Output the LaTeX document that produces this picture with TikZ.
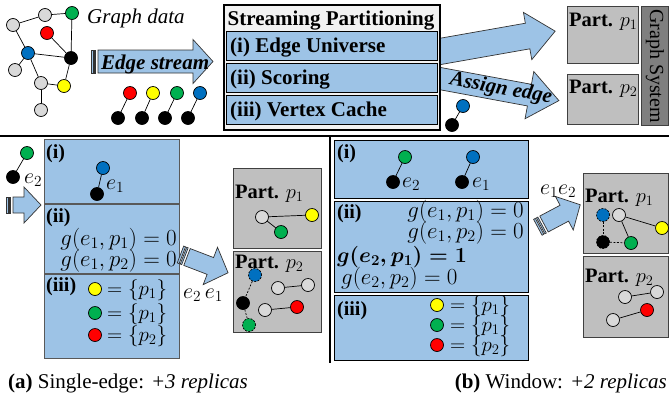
\RequirePackage{fix-cm}
\documentclass[tikz,border=0pt]{standalone}
\usepackage{amsmath}
\usepackage{fontspec}
\setmainfont{Liberation Serif}
\definecolor{lblue}{HTML}{9DC3E6}
\definecolor{pgray}{HTML}{BFBFBF}
\definecolor{sgray}{HTML}{7F7F7F}
\definecolor{vgray}{HTML}{D9D9D9}
\definecolor{vgreen}{HTML}{00B050}
\definecolor{vblue}{HTML}{0070C0}
\definecolor{vred}{HTML}{FF0000}
\definecolor{vyellow}{HTML}{FFFF00}
\definecolor{spfill}{HTML}{F2F2F2}
\newcommand{\fA}{\fontsize{21}{24}\selectfont}
\newcommand{\fB}{\fontsize{20}{22}\selectfont}
\newcommand{\fP}{\fontsize{20.5}{22}\selectfont}
\newcommand{\fM}{\fontsize{23}{24}\selectfont}
\newcommand{\fMb}{\fontsize{21.5}{24}\selectfont}
\newcommand{\fE}{\fontsize{22}{24}\selectfont}
\newcommand{\fS}{\fontsize{21}{24}\selectfont}
\tikzset{
 vtx/.style={circle, draw=black, line width=0.7pt, minimum size=13pt, inner sep=0pt},
 vg/.style={vtx, fill=vgray}, vr/.style={vtx, fill=vred}, vy/.style={vtx, fill=vyellow},
 vgn/.style={vtx, fill=vgreen}, vb/.style={vtx, fill=vblue}, vk/.style={vtx, fill=black},
 dashv/.style={dash pattern=on 2pt off 1.3pt},
 lnk/.style={line width=0.7pt},
 dlnk/.style={line width=0.7pt, dash pattern=on 2pt off 1.5pt},
 spbox/.style={draw=black, fill=spfill, line width=1.5pt},
 panelA/.style={draw=black!65, fill=lblue, line width=1pt},
 panelB/.style={draw=black, fill=lblue, line width=1.2pt},
 partbox/.style={draw=black!75, fill=pgray, line width=1pt},
 gsbox/.style={draw=black!75, fill=sgray, line width=1pt},
 arrsty/.style={draw=black!80, fill=lblue, line width=0.7pt, line join=miter},
 lbl/.style={inner sep=0pt, font=\fE},
 mth/.style={inner sep=0pt, font=\fM},
 mthb/.style={inner sep=0pt, font=\fMb},
 sett/.style={inner sep=0pt, font=\fS, anchor=base west},
 lblb/.style={inner sep=0pt, font=\fB\bfseries},
 ptxt/.style={inner sep=0pt, font=\fP, anchor=base west},
}
\newcommand{\boxnode}[6]{\node[#2, anchor=north west, minimum width={#5-#3}, minimum height={#6-#4}, inner sep=0pt] (#1) at (#3,#4) {};}
\newcommand{\fatarr}[7]{%
 \begin{scope}[shift={(#1,#2)},rotate=#3]
 \draw[arrsty] (0,-#5) -- ({#4-#7},-#5) -- ({#4-#7},-#6) -- (#4,0) -- ({#4-#7},#6) -- ({#4-#7},#5) -- (0,#5) -- cycle;
 \end{scope}}
\newcommand{\stripes}[4]{%
 \begin{scope}[shift={(#1,#2)},rotate=#3]
 \draw[arrsty] (-7,-#4) rectangle (-5,#4);
 \draw[arrsty] (-3.8,-#4) rectangle (-2.2,#4);
 \end{scope}}
\begin{document}
\begin{tikzpicture}[x=1pt,y=-1pt]
\useasboundingbox (0,0) rectangle (669,397);
% ---------- top: graph data ----------
\node[vg] (g1) at (13,25) {};
\node[vg] (g2) at (45,15) {};
\node[vgn] (g3) at (72,13) {};
\node[vr] (g4) at (47,33) {};
\node[vb] (g5) at (28,53) {};
\node[vk] (g6) at (71,58) {};
\node[vg] (g7) at (15,70) {};
\node[vg] (g8) at (41,83) {};
\node[vy] (g9) at (64,86) {};
\node[vg] (g10) at (41,110) {};
\foreach \a/\b in {g1/g2,g2/g3,g3/g6,g1/g5,g4/g6,g5/g6,g5/g7,g5/g8,g6/g9,g8/g9,g8/g10}
  \draw[lnk] (\a) -- (\b);
\node[anchor=base west, inner sep=0pt, font=\fA\itshape] (gdata) at (87,23) {Graph data};
% edge stream arrow
\stripes{98}{61.5}{0}{11.5}
\fatarr{98}{61.5}{0}{115}{11.5}{22}{20}
\node[anchor=base west, inner sep=0pt, font=\fA\bfseries\itshape] (estream) at (101,69) {Edge stream};
\node[vr] (s1) at (130,93) {}; \node[vk] (k1) at (118,118) {};
\node[vy] (s2) at (153,93) {}; \node[vk] (k2) at (142,118) {};
\node[vgn] (s3) at (177,93) {}; \node[vk] (k3) at (165,118) {};
\node[vb] (s4) at (200,93) {}; \node[vk] (k4) at (188,118) {};
\foreach \a/\b in {s1/k1,s2/k2,s3/k3,s4/k4} \draw[lnk] (\a) -- (\b);
% big arrows to partitions
\fatarr{437}{52}{10}{120}{13}{24}{28}
\fatarr{437}{78}{-10.5}{124}{11}{24}{30}
\node[rotate=-10.5, font=\fA\bfseries\itshape, inner sep=0pt] (assign) at (501,89) {Assign edge};
\node[vb] (ab) at (463,106) {}; \node[vk] (ak) at (452,125) {};
\draw[lnk] (ab) -- (ak);
% streaming partitioning box
\boxnode{sp}{spbox}{223}{4}{439}{129}
\node[anchor=base, inner sep=0pt, font=\fA\bfseries] (sptitle) at (331,25) {Streaming Partitioning};
\boxnode{spa}{panelB}{226}{31}{437}{60}
\boxnode{spb}{panelB}{226}{63}{437}{92}
\boxnode{spc}{panelB}{226}{95}{437}{124}
\node[anchor=base west, inner sep=0pt, font=\fA\bfseries] (spat) at (230,52) {(i) Edge Universe};
\node[anchor=base west, inner sep=0pt, font=\fA\bfseries] (spbt) at (230,84) {(ii) Scoring};
\node[anchor=base west, inner sep=0pt, font=\fA\bfseries] (spct) at (230,116) {(iii) Vertex Cache};
% partitions top
\boxnode{tp1}{partbox}{567}{6}{638}{63}
\boxnode{tp2}{partbox}{567}{74}{638}{124}
\node[ptxt] (tp1t) at (569,26) {\textbf{Part.} $p_1$};
\node[ptxt] (tp2t) at (569,93) {\textbf{Part.} $p_2$};
\boxnode{gs}{gsbox}{641}{6}{668}{125}
\node[rotate=-90, inner sep=0pt, font=\fB] (gst) at (gs.center) {Graph System};
% separators
\draw[line width=2.5pt] (0,136) -- (669,136);
\draw[line width=2.5pt] (330,136) -- (330,363);
% ---------- (a) ----------
\node[vgn] (ag) at (27,153) {}; \node[vk] (ak2) at (13,177) {};
\draw[lnk] (ag) -- (ak2);
\node[lbl, anchor=base west] (ae2) at (24,183) {$e_2$};
\stripes{13}{205}{0}{8}
\fatarr{13}{205}{0}{28}{8}{18}{17}
\boxnode{a1}{panelA}{44}{139}{179}{203}
\boxnode{a2}{panelA}{44}{204}{179}{273}
\boxnode{a3}{panelA}{44}{274}{179}{358}
\node[lblb, anchor=base west] (a1t) at (46,158) {(i)};
\node[lblb, anchor=base west] (a2t) at (46,222) {(ii)};
\node[lblb, anchor=base west] (a3t) at (46,291) {(iii)};
\node[vb] (ab1) at (103,168) {}; \node[vk] (ak1) at (97,194) {};
\draw[lnk] (ab1) -- (ak1);
\node[lbl, anchor=base west] (ae1) at (106,189) {$e_1$};
\node[mth, anchor=base east] (am1) at (177,245) {$g(e_1,p_1)=0$};
\node[mth, anchor=base east] (am2) at (177,266) {$g(e_1,p_2)=0$};
\node[vy] (ay) at (95,289) {}; \node[sett] (ayt) at (107,295) {$=\{p_1\}$};
\node[vgn] (agn) at (95,313) {}; \node[sett] (agt) at (107,319) {$=\{p_1\}$};
\node[vr] (ar) at (95,335) {}; \node[sett] (art) at (107,341) {$=\{p_2\}$};
% arrow (a)
\stripes{187}{257}{-21}{9}
\fatarr{187}{257}{-21}{44}{9}{20}{19}
\node[lbl, anchor=base] (ae21) at (203,298) {$e_2\,e_1$};
% partitions (a)
\boxnode{pa1}{partbox}{233}{168}{321}{248}
\boxnode{pa2}{partbox}{233}{251}{321}{332}
\node[ptxt] (pa1t) at (235,198) {\textbf{Part.} $p_1$};
\node[ptxt] (pa2t) at (235,268) {\textbf{Part.} $p_2$};
\node[vg] (w1) at (262,217) {}; \node[vy] (y1) at (312,215) {}; \node[vgn] (gr1) at (281,232) {};
\draw[lnk] (w1) -- (y1); \draw[lnk] (w1) -- (gr1);
\node[vb, dashv] (b2) at (255,275) {};
\node[vk] (kk2) at (243,303) {};
\node[vgn, dashv] (gr2) at (249,325) {};
\node[vg] (w2) at (278,288) {}; \node[vg] (w3) at (308,285) {};
\node[vg] (w4) at (265,310) {}; \node[vr] (r2) at (297,307) {};
\draw[dlnk] (b2) -- (kk2); \draw[dlnk] (kk2) -- (gr2);
\draw[lnk] (w2) -- (w3); \draw[lnk] (w4) -- (r2);
% ---------- (b) ----------
\boxnode{b1}{panelB}{334}{140}{528}{198}
\boxnode{bb2}{panelB}{334}{201}{528}{292}
\boxnode{b3}{panelB}{334}{295}{528}{360}
\node[lblb, anchor=base west] (b1t) at (337,158) {(i)};
\node[lblb, anchor=base west] (b2t) at (337,218) {(ii)};
\node[lblb, anchor=base west] (b3t) at (337,315) {(iii)};
\node[vgn] (bg) at (405,157) {}; \node[vk] (bk) at (393,182) {};
\draw[lnk] (bg) -- (bk);
\node[lbl, anchor=base west] (be2) at (402,187) {$e_2$};
\node[vb] (bb) at (473,157) {}; \node[vk] (bkk) at (462,182) {};
\draw[lnk] (bb) -- (bkk);
\node[lbl, anchor=base west] (be1) at (472,187) {$e_1$};
\node[mth, anchor=base east] (bm1) at (524,217) {$g(e_1,p_1)=0$};
\node[mth, anchor=base east] (bm2) at (524,238) {$g(e_1,p_2)=0$};
\node[mthb, anchor=base west] (bm3) at (337,262) {$\boldsymbol{g(e_2,p_1)=1}$};
\node[mth, anchor=base west] (bm4) at (341,284) {$g(e_2,p_2)=0$};
\node[vy] (by) at (437,305) {}; \node[sett] (byt) at (450,311) {$=\{p_1\}$};
\node[vgn] (bgn) at (437,325) {}; \node[sett] (bgt) at (450,331) {$=\{p_1\}$};
\node[vr] (br) at (437,345) {}; \node[sett] (brt) at (450,351) {$=\{p_2\}$};
% arrow (b)
\stripes{544}{224}{28}{9}
\fatarr{544}{224}{28}{41}{9}{19}{18}
\node[lbl, anchor=base west] (be12) at (540,194) {$e_1e_2$};
% partitions (b)
\boxnode{pb1}{partbox}{583}{173}{668}{253}
\boxnode{pb2}{partbox}{583}{256}{668}{337}
\node[ptxt] (pb1t) at (585,202) {\textbf{Part.} $p_1$};
\node[ptxt] (pb2t) at (585,282) {\textbf{Part.} $p_2$};
\node[vb, dashv] (bd) at (603,215) {};
\node[vg] (wg) at (619,215) {};
\node[vy] (yy) at (662,228) {};
\node[vk, dashv] (kd) at (603,242) {};
\node[vgn] (gg) at (631,243) {};
\draw[dlnk] (bd) -- (kd); \draw[dlnk] (kd) -- (gg);
\draw[lnk] (wg) -- (yy); \draw[lnk] (wg) -- (gg);
\node[vg] (wa) at (625,297) {}; \node[vg] (wb) at (657,292) {};
\node[vg] (wc) at (613,320) {}; \node[vr] (rr) at (647,310) {};
\draw[lnk] (wa) -- (wb); \draw[lnk] (wc) -- (rr);
% captions
\node[anchor=base west, inner sep=0pt, font=\fA] (capa) at (8,388) {\textbf{(a)} Single-edge: \textit{+3 replicas}};
\node[anchor=base east, inner sep=0pt, font=\fA] (capb) at (667,388) {\textbf{(b)} Window: \textit{+2 replicas}};
\end{tikzpicture}
\end{document}
